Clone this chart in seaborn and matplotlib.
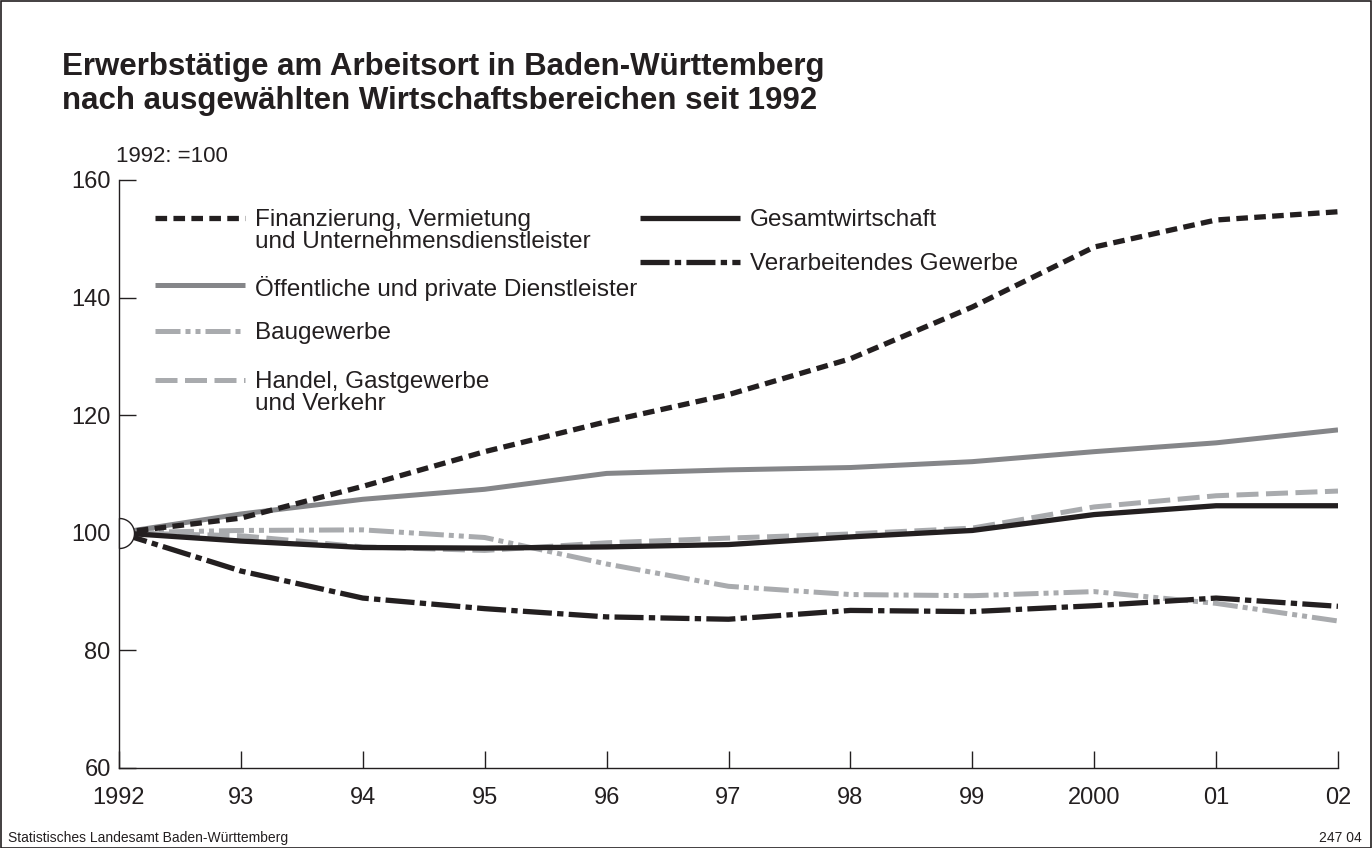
import matplotlib
matplotlib.use("Agg")
import matplotlib.pyplot as plt
import seaborn as sns
import pandas as pd
import numpy as np
from matplotlib.patches import Rectangle
from matplotlib.lines import Line2D
from matplotlib.path import Path

sns.set_theme(style="white")
plt.rcParams["font.family"] = ["Liberation Sans", "DejaVu Sans"]

years = [1992, 1993, 1994, 1995, 1996, 1997, 1998, 1999, 2000, 2001, 2002]
year_labels = ["1992", "93", "94", "95", "96", "97", "98", "99", "2000", "01", "02"]

finanzierung = [100, 102.5, 107.9, 113.8, 118.9, 123.5, 129.6, 138.4, 148.6, 153.2, 154.6]
oeffentliche = [100, 103.2, 105.7, 107.4, 110.1, 110.7, 111.1, 112.1, 113.8, 115.3, 117.5]
baugewerbe = [100, 100.4, 100.5, 99.2, 94.7, 90.9, 89.5, 89.3, 90.0, 88.0, 85.0]
handel = [100, 99.5, 97.6, 97.0, 98.3, 99.1, 99.8, 100.8, 104.4, 106.3, 107.1]
gesamt = [100, 98.6, 97.5, 97.4, 97.6, 98.0, 99.3, 100.4, 103.1, 104.6, 104.6]
verarbeitend = [100, 93.5, 88.9, 87.1, 85.7, 85.3, 86.8, 86.6, 87.6, 88.9, 87.5]

labels = [
    "Finanzierung, Vermietung\nund Unternehmensdienstleister",
    "Öffentliche und private Dienstleister",
    "Baugewerbe",
    "Handel, Gastgewerbe\nund Verkehr",
    "Gesamtwirtschaft",
    "Verarbeitendes Gewerbe",
]

BLACK = "#231f20"
MIDGRAY = "#858689"
LIGHTGRAY = "#a9abae"

W, H = 1372, 848
fig = plt.figure(figsize=(W / 100, H / 100), dpi=100)
ax = fig.add_axes([119 / W, 1 - 768 / H, (1338 - 119) / W, (768 - 180) / H])


def fx(x):
    return x / W


def fy(y):
    return 1 - y / H


styles = {
    labels[3]: (handel, LIGHTGRAY, (0, (4.4, 1.5)), 3.6, 2),
    labels[2]: (baugewerbe, LIGHTGRAY, (0, (5, 1.0, 1.0, 1.0, 1.0, 1.0)), 3.6, 3),
    labels[1]: (oeffentliche, MIDGRAY, "-", 3.6, 4),
    labels[5]: (verarbeitend, BLACK, (0, (5.5, 1.0, 1.2, 1.0)), 3.8, 5),
    labels[4]: (gesamt, BLACK, "-", 3.8, 6),
    labels[0]: (finanzierung, BLACK, (0, (2.2, 1.2)), 3.8, 7),
}

for lab, (vals, col, ls, lw, z) in styles.items():
    df = pd.DataFrame({"Jahr": years, "Wert": vals})
    sns.lineplot(data=df, x="Jahr", y="Wert", ax=ax, color=col, linestyle=ls,
                 linewidth=lw, zorder=z, legend=False)
    line = ax.get_lines()[-1]
    line.set_dash_capstyle("butt")
    line.set_solid_capstyle("butt")

# Base-year marker: right half circle on the axis
theta = np.linspace(-np.pi / 2, np.pi / 2, 60)
verts = np.column_stack([np.cos(theta), np.sin(theta)])
verts = np.vstack([verts, [[0, -1]]])
half = Path(verts, closed=True)
ax.plot([years[0]], [100], marker=half, markersize=21.6, markerfacecolor="white",
        markeredgecolor=BLACK, markeredgewidth=1.0, clip_on=False, zorder=10,
        linestyle="none")

ax.set_xlim(1992, 2002)
ax.set_ylim(60, 160)
ax.set_xticks(years)
ax.set_xticklabels(year_labels)
ax.set_yticks([60, 80, 100, 120, 140, 160])
ax.set_xlabel("")
ax.set_ylabel("")
for s in ["top", "right"]:
    ax.spines[s].set_visible(False)
for s in ["left", "bottom"]:
    ax.spines[s].set_color(BLACK)
    ax.spines[s].set_linewidth(1.0)
ax.tick_params(axis="both", direction="in", length=12, width=1.0, color=BLACK,
               labelsize=17, labelcolor=BLACK)
ax.tick_params(axis="x", pad=14, bottom=True)
ax.tick_params(axis="y", pad=6, left=True)

# Legend (manual layout, handle aligned with first label line)
legend_items = [
    (labels[0], 155, 245, 255, 218),
    (labels[1], 155, 245, 255, 285),
    (labels[2], 155, 245, 255, 331),
    (labels[3], 155, 245, 255, 380),
    (labels[4], 640, 740, 750, 218),
    (labels[5], 640, 740, 750, 262),
]
for lab, x0, x1, xt, y in legend_items:
    _, col, ls, lw, _ = styles[lab]
    ln = Line2D([fx(x0), fx(x1)], [fy(y), fy(y)], transform=fig.transFigure,
                color=col, linestyle=ls, linewidth=lw, solid_capstyle="butt",
                dash_capstyle="butt")
    fig.add_artist(ln)
    fig.text(fx(xt), fy(y - 9), lab, fontsize=17.5, color=BLACK, va="top",
             ha="left", linespacing=1.0)

fig.text(fx(62), fy(52),
         "Erwerbstätige am Arbeitsort in Baden-Württemberg\nnach ausgewählten Wirtschaftsbereichen seit 1992",
         fontsize=22.5, fontweight="bold", color=BLACK, va="top", ha="left", linespacing=1.17)
fig.text(fx(116), fy(157), "1992: =100", fontsize=16, color=BLACK, va="center", ha="left")
fig.text(fx(8), fy(845), "Statistisches Landesamt Baden-Württemberg",
         fontsize=10, color=BLACK, va="bottom", ha="left")
fig.text(fx(1362), fy(845), "247 04", fontsize=10, color=BLACK,
         va="bottom", ha="right")

fig.patches.append(Rectangle((0.5 / W, 0.5 / H), 1 - 1.5 / W, 1 - 1.5 / H,
                             transform=fig.transFigure, fill=False,
                             edgecolor=BLACK, linewidth=1.2, zorder=0))

fig.savefig("out.png", dpi=100, facecolor="white")
